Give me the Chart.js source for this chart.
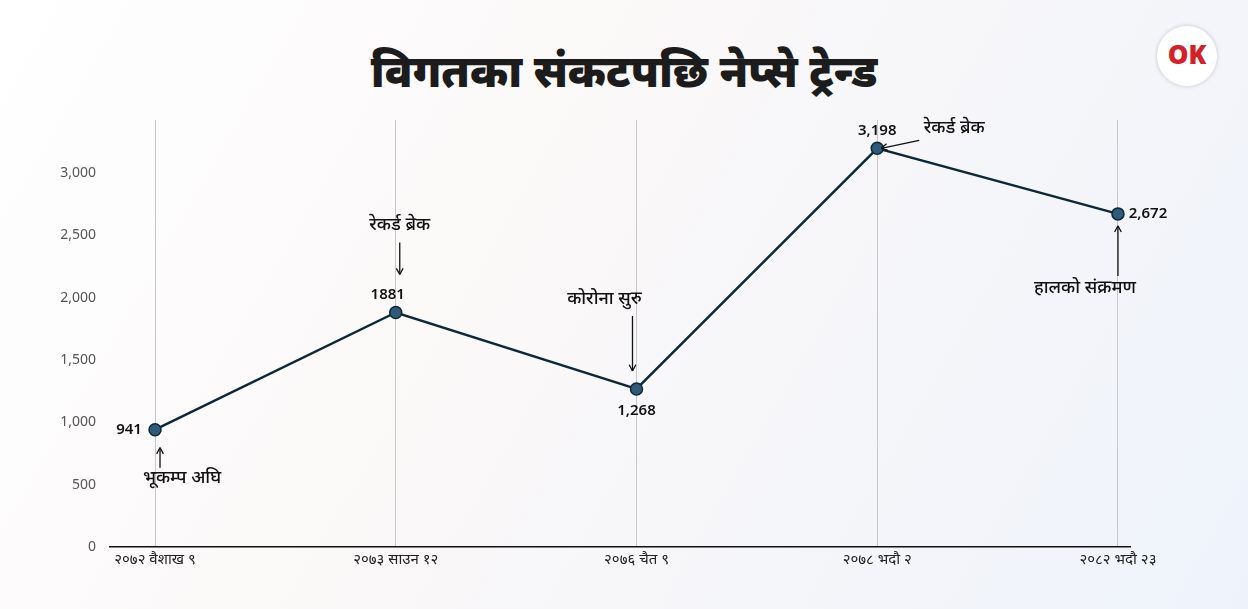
<!DOCTYPE html>
<html>
<head>
<meta charset="utf-8">
<script src="https://cdn.jsdelivr.net/npm/chart.js@4"></script>
<style>
  body { margin: 0; width: 1248px; height: 609px; overflow: hidden;
         background: linear-gradient(120deg, #ffffff 0%, #fbf8f8 40%, #eef3fb 100%);
         font-family: "Noto Sans", "Noto Sans CJK SC", sans-serif; }
  #title { position: absolute; top: 40px; width: 100%; text-align: center;
           font-size: 44px; font-weight: 900; color: #1c1c1c; }
  #logo { position: absolute; left: 1157px; top: 26px; width: 60px; height: 60px;
          border-radius: 50%; background: #fff; box-shadow: 0 0 4px rgba(0,0,0,0.2);
          text-align: center; line-height: 56px; font-weight: 900; font-size: 26px; color: #d42027; }
  #wrap { position: absolute; left: 0; top: 0; width: 1248px; height: 609px; }
</style>
</head>
<body>
<div id="title">विगतका संकटपछि नेप्से ट्रेन्ड</div>
<div id="logo">OK</div>
<div id="wrap"><canvas id="myChart" width="1248" height="609"></canvas></div>
<script>
const labels = ['२०७२ वैशाख ९', '२०७३ साउन १२', '२०७६ चैत ९', '२०७८ भदौ २', '२०८२ भदौ २३'];
const values = [941, 1881, 1268, 3198, 2672];
const valueText = ['941', '1881', '1,268', '3,198', '2,672'];
const notes = ['भूकम्प अघि', 'रेकर्ड ब्रेक', 'कोरोना सुरु', 'रेकर्ड ब्रेक', 'हालको संक्रमण'];
const yTicks = [0, 500, 1000, 1500, 2000, 2500, 3000];

// label placement: value offset, note offset, arrow from/to (px, relative to point)
const place = [
    { v: [-26, 0, 'center'], n: [27, 48], a: [[5, 38], [5, 18]] },
    { v: [-8, -18, 'center'], n: [4, -88], a: [[4, -70], [4, -38]] },
    { v: [0, 22, 'center'], n: [-32, -90], a: [[-4, -73], [-4, -18]] },
    { v: [0, -18, 'center'], n: [77, -20], a: [[42, -8], [4, 0]] },
    { v: [30, 0, 'center'], n: [-33, 74], a: [[0, 62], [0, 12]] }
];

function arrow(ctx, x1, y1, x2, y2) {
    ctx.beginPath();
    ctx.moveTo(x1, y1); ctx.lineTo(x2, y2); ctx.stroke();
    const ang = Math.atan2(y2 - y1, x2 - x1);
    ctx.beginPath();
    ctx.moveTo(x2, y2);
    ctx.lineTo(x2 - 7 * Math.cos(ang - 0.5), y2 - 7 * Math.sin(ang - 0.5));
    ctx.moveTo(x2, y2);
    ctx.lineTo(x2 - 7 * Math.cos(ang + 0.5), y2 - 7 * Math.sin(ang + 0.5));
    ctx.stroke();
}

const notesPlugin = {
    id: 'notes',
    afterDatasetsDraw(chart) {
        const ctx = chart.ctx;
        const pts = chart.getDatasetMeta(0).data;
        ctx.save();
        ctx.fillStyle = '#111';
        ctx.strokeStyle = '#111';
        ctx.lineWidth = 1.3;
        ctx.textBaseline = 'middle';
        pts.forEach((p, i) => {
            const pl = place[i];
            ctx.font = '600 15px "Noto Sans"';
            ctx.textAlign = pl.v[2];
            ctx.fillText(valueText[i], p.x + pl.v[0], p.y + pl.v[1]);
            ctx.font = '500 18px "Noto Sans"';
            ctx.textAlign = 'center';
            ctx.fillText(notes[i], p.x + pl.n[0], p.y + pl.n[1]);
            arrow(ctx, p.x + pl.a[0][0], p.y + pl.a[0][1], p.x + pl.a[1][0], p.y + pl.a[1][1]);
        });
        ctx.restore();
    }
};

const ctx = document.getElementById('myChart').getContext('2d');
new Chart(ctx, {
    type: 'line',
    data: {
        datasets: [{
            data: values.map((v, i) => ({ x: i, y: v })),
            borderColor: '#0b2838',
            borderWidth: 2.5,
            pointRadius: 6,
            pointBackgroundColor: '#2f5b78',
            pointBorderColor: '#0b2838',
            pointBorderWidth: 1.5,
            tension: 0
        }]
    },
    options: {
        responsive: false,
        animation: false,
        layout: { padding: { top: 120, right: 118, left: 0, bottom: 0 } },
        plugins: { legend: { display: false }, tooltip: { enabled: false } },
        scales: {
            x: {
                type: 'linear', min: -0.187, max: 4.05,
                afterBuildTicks: s => { s.ticks = labels.map((l, i) => ({ value: i })); },
                afterFit: s => { s.height = 62; },
                ticks: { callback: v => labels[v], color: '#222', font: { size: 15, family: 'Noto Sans' }, maxRotation: 0, padding: 4 },
                grid: { color: '#c8c8c8', drawTicks: false },
                border: { color: '#111', width: 1.5 }
            },
            y: {
                min: 0, max: 3425,
                afterBuildTicks: s => { s.ticks = yTicks.map(v => ({ value: v })); },
                afterFit: s => { s.width = 110; },
                ticks: { callback: v => v.toLocaleString('en-US'), color: '#555', font: { size: 14, family: 'Noto Sans' }, padding: 6 },
                grid: { display: false },
                border: { display: false }
            }
        }
    },
    plugins: [notesPlugin]
});
</script>
</body>
</html>
